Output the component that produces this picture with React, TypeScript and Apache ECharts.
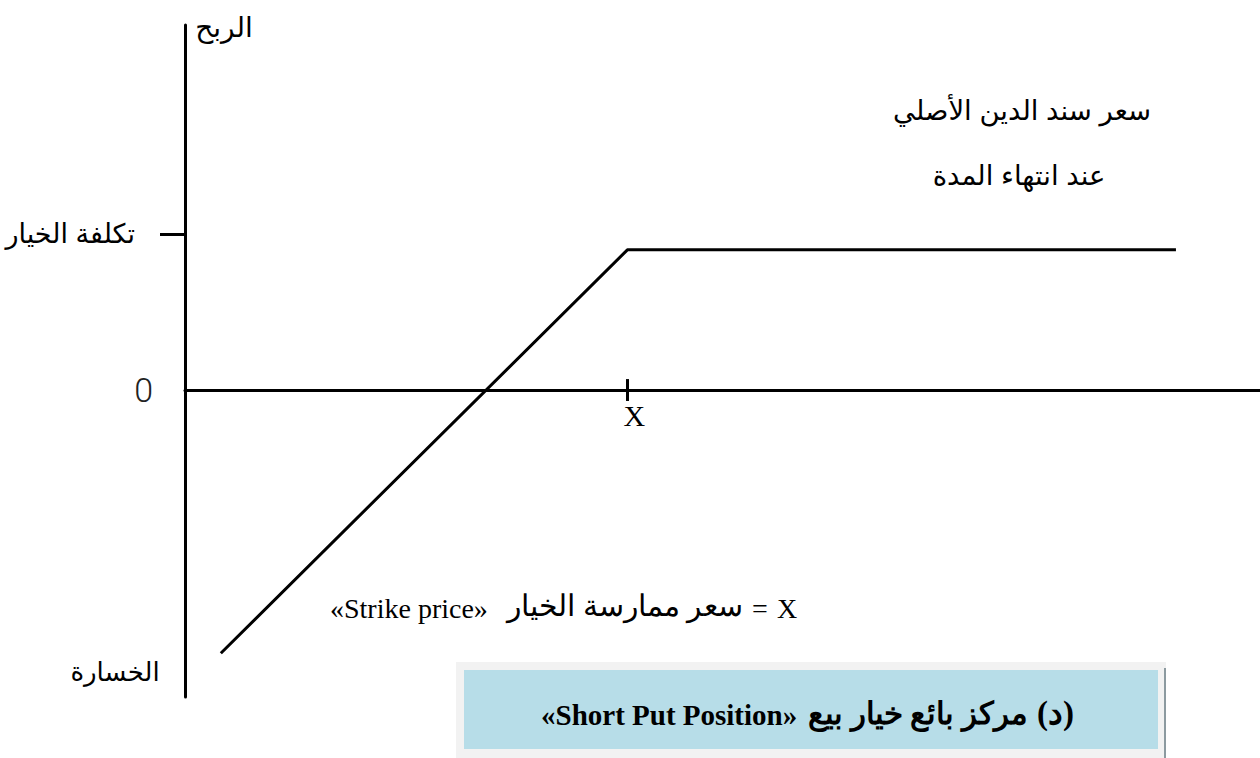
import React, { useEffect, useRef } from "react";
import * as echarts from "echarts";

// ---- data (value units) ----
const payoffX = [8.1, 100, 224];
const payoffY = [-72.1, 38.4, 38.4];
const strikeX = 100;
const premiumTick = 42.7;
const xRange = [0, 243];
const yRange = [-84.1, 100];
const yTickLabels = ["0", "تكلفة الخيار"];
const xTickLabel = "X";
const profitLabel = "الربح";
const lossLabel = "الخسارة";
const priceLabel1 = "سعر سند الدين الأصلي";
const priceLabel2 = "عند انتهاء المدة";
const strikeNoteParts = ["X", "=", "سعر ممارسة الخيار", "«Strike price»"];
const titleParts = ["(د)", "مركز بائع خيار بيع", "«Short Put Position»"];

const SANS = '"Liberation Sans", Arial, "DejaVu Sans", sans-serif';
const SERIF = '"Liberation Serif", "Times New Roman", "DejaVu Serif", serif';

const txt = (x: number, y: number, text: string, align: string, size: number, family: string, weight: string = "normal") => ({
  type: "text",
  x,
  y,
  style: { text, align, verticalAlign: "middle", fontFamily: family, fontSize: size, fontWeight: weight, fill: "#000" },
});

export default function App() {
  const ref = useRef<HTMLDivElement>(null);
  useEffect(() => {
    if (!ref.current) return;
    const chart = echarts.init(ref.current, undefined, { renderer: "svg" });
    const data = payoffX.map((x, i) => [x, payoffY[i]]);
    chart.setOption({
      animation: false,
      backgroundColor: "#ffffff",
      grid: { left: 185, right: 0, top: 25, bottom: 61, containLabel: false },
      xAxis: {
        type: "value",
        min: xRange[0],
        max: xRange[1],
        axisLine: { show: true, onZero: true, lineStyle: { color: "#000", width: 3 } },
        axisTick: { show: false },
        splitLine: { show: false },
        axisLabel: { show: false },
      },
      yAxis: {
        type: "value",
        min: yRange[0],
        max: yRange[1],
        axisLine: { show: true, onZero: false, lineStyle: { color: "#000", width: 3 } },
        axisTick: {
          show: true,
          customValues: [premiumTick],
          length: 25,
          lineStyle: { color: "#000", width: 3 },
        },
        splitLine: { show: false },
        axisLabel: {
          show: true,
          customValues: [0, premiumTick],
          margin: 32,
          formatter: (v: number) => (v === 0 ? "{z|" + yTickLabels[0] + "}" : "{p|" + yTickLabels[1] + "}"),
          rich: {
            z: { fontFamily: 'Roboto, "Liberation Sans", sans-serif', fontSize: 34, color: "#222", fontWeight: 300 },
            p: { fontFamily: SANS, fontSize: 27, color: "#000", padding: [0, 18, 0, 0] },
          },
        },
      },
      series: [
        {
          type: "line",
          data,
          symbol: "none",
          clip: false,
          lineStyle: { color: "#000", width: 3 },
          markLine: {
            silent: true,
            symbol: "none",
            label: {
              show: true,
              position: "end",
              distance: 4,
              offset: [7, -4],
              formatter: () => xTickLabel,
              color: "#000",
              fontFamily: SERIF,
              fontSize: 30,
            },
            lineStyle: { color: "#000", width: 3, type: "solid" },
            data: [[{ coord: [strikeX, 3] }, { coord: [strikeX, -3] }]],
          },
        },
      ],
      graphic: [
        txt(224, 27, profitLabel, "center", 28, SANS),
        txt(115, 672, lossLabel, "center", 26, SANS),
        txt(1022, 110, priceLabel1, "center", 27.5, SANS),
        txt(1019, 175, priceLabel2, "center", 27.5, SANS),
        txt(787, 608, strikeNoteParts[0], "center", 28, SERIF),
        txt(760, 608, strikeNoteParts[1], "center", 28, SERIF),
        txt(743, 606, strikeNoteParts[2], "right", 29.5, SERIF),
        txt(330, 608, strikeNoteParts[3], "left", 28, SERIF),
        { type: "rect", shape: { x: 456, y: 662, width: 710, height: 100 }, style: { fill: "#f2f2f2" } },
        { type: "line", shape: { x1: 1165, y1: 668, x2: 1165, y2: 758 }, style: { stroke: "#8c9aa0", lineWidth: 2 } },
        { type: "rect", shape: { x: 464, y: 670, width: 694, height: 79 }, style: { fill: "#b7dde8" } },
        txt(1074, 713, titleParts[0], "right", 33, SERIF, "bold"),
        txt(1028, 713, titleParts[1], "right", 31, SERIF, "bold"),
        txt(541, 715, titleParts[2], "left", 29, SERIF, "bold"),
      ],
    });
    return () => chart.dispose();
  }, []);
  return <div ref={ref} style={{ position: "fixed", left: 0, top: 0, width: 1260, height: 758 }} />;
}
